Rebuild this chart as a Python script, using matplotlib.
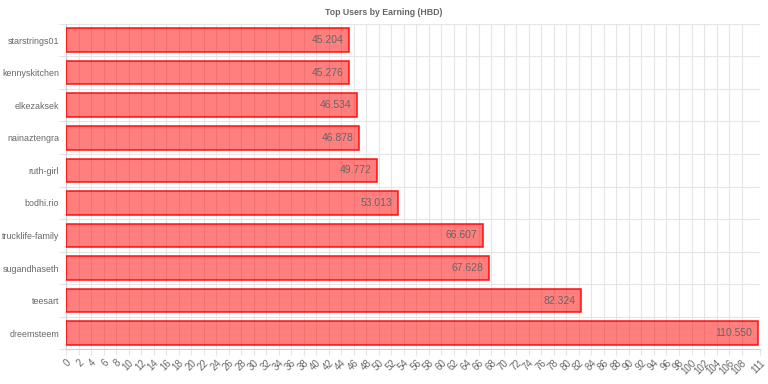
import matplotlib
matplotlib.use("Agg")
import matplotlib.pyplot as plt
import numpy as np
from matplotlib.ticker import FixedLocator

users = ["starstrings01", "kennyskitchen", "elkezaksek", "nainaztengra", "ruth-girl",
         "bodhi.rio", "trucklife-family", "sugandhaseth", "teesart", "dreemsteem"]
earnings = [45.204, 45.276, 46.534, 46.878, 49.772, 53.013, 66.607, 67.628, 82.324, 110.550]
x_ticks = list(range(0, 109, 2)) + [111]

plt.rcParams['font.family'] = ['Liberation Sans', 'DejaVu Sans']
fig = plt.figure(figsize=(7.68, 3.84), dpi=100)
ax = fig.add_axes([0.086, 0.09, 0.904, 0.848])

y = np.arange(len(users))
ax.barh(y, earnings, height=0.72, color=(1, 0, 0, 0.5), edgecolor=(1, 0, 0, 0.85), linewidth=1.2, zorder=3)
for yi, v in zip(y, earnings):
    ax.text(v - 0.9, yi, f"{v:.3f}", ha='right', va='center', color='#666666', fontsize=7.5, zorder=4)

ax.set_xlim(0, 111)
ax.set_ylim(len(users) - 0.5, -0.5)
ax.set_yticks(y)
ax.set_yticklabels(users, fontsize=6.4, color='#666666')
ax.yaxis.set_minor_locator(FixedLocator(np.arange(-0.5, len(users), 1)))
ax.set_xticks(x_ticks)
ax.set_xticklabels([str(t) for t in x_ticks], fontsize=7, color='#666666', rotation=45,
                   ha='right', rotation_mode='anchor')
ax.tick_params(axis='y', which='major', length=0, pad=5)
ax.tick_params(axis='y', which='minor', length=5, color='#e5e5e5', width=0.8)
ax.tick_params(axis='x', which='major', length=4, color='#e5e5e5', width=0.8, pad=2)
ax.grid(True, axis='x', which='major', color='#e5e5e5', linewidth=0.8, zorder=0)
ax.grid(True, axis='y', which='minor', color='#e5e5e5', linewidth=0.8, zorder=0)
for s in ['top', 'right']:
    ax.spines[s].set_visible(False)
ax.spines['left'].set_color('#d0d0d0')
ax.spines['bottom'].set_color('#d0d0d0')
fig.text(0.5, 0.967, "Top Users by Earning (HBD)", fontsize=6.3, fontweight='bold', color='#666666',
         ha='center', va='center')

fig.savefig("out.png", dpi=100)
